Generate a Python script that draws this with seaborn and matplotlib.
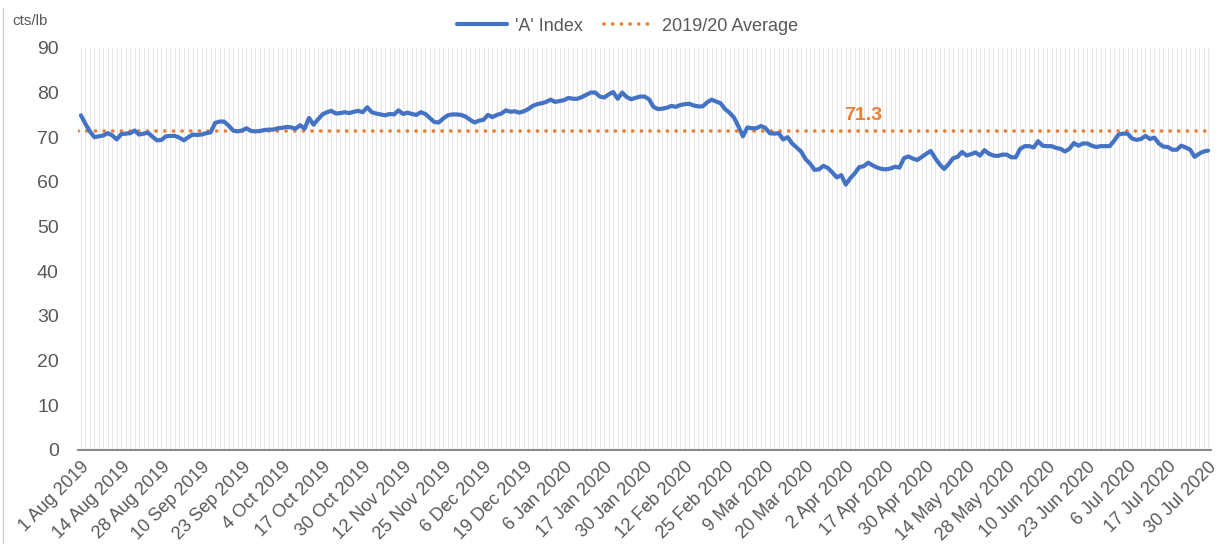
import numpy as np
import pandas as pd
import matplotlib
matplotlib.use("Agg")
import matplotlib.pyplot as plt
import seaborn as sns
from matplotlib.lines import Line2D

# ---- data ----
start_date = "2019-08-01"
end_date = "2020-07-30"
holidays = ["2019-08-26", "2019-12-25", "2019-12-26", "2020-01-01",
            "2020-04-10", "2020-04-13", "2020-05-08", "2020-05-25"]

a_index = [
    74.9, 73.0, 71.3, 70.0, 70.2, 70.4, 70.9, 70.4, 69.5, 70.7,
    70.8, 70.9, 71.5, 70.6, 70.8, 71.0, 70.1, 69.3, 69.4, 70.2,
    70.3, 70.3, 69.9, 69.3, 70.0, 70.6, 70.5, 70.6, 70.9, 71.1,
    73.2, 73.5, 73.5, 72.6, 71.5, 71.3, 71.5, 72.0, 71.4, 71.3,
    71.4, 71.6, 71.7, 71.7, 72.0, 72.1, 72.3, 72.2, 71.9, 72.7,
    71.9, 74.3, 72.8, 74.0, 75.1, 75.6, 75.9, 75.3, 75.4, 75.6,
    75.4, 75.7, 75.9, 75.6, 76.7, 75.6, 75.3, 75.1, 74.9, 75.2,
    75.1, 76.0, 75.2, 75.5, 75.2, 75.0, 75.6, 75.2, 74.3, 73.4,
    73.3, 74.2, 74.9, 75.1, 75.1, 75.0, 74.6, 73.9, 73.3, 73.7,
    73.9, 75.0, 74.5, 75.0, 75.3, 76.0, 75.7, 75.8, 75.5, 75.8,
    76.3, 77.0, 77.4, 77.6, 77.9, 78.4, 77.9, 78.1, 78.3, 78.8,
    78.6, 78.6, 79.0, 79.5, 80.0, 80.0, 79.1, 78.9, 79.6, 80.1,
    78.6, 80.0, 79.0, 78.5, 78.8, 79.1, 79.1, 78.5, 76.8, 76.3,
    76.4, 76.6, 77.0, 76.8, 77.2, 77.4, 77.5, 77.1, 76.9, 76.9,
    77.8, 78.4, 78.0, 77.6, 76.3, 75.5, 74.4, 72.4, 70.2, 72.2,
    72.0, 72.0, 72.5, 72.1, 70.9, 70.8, 70.9, 69.5, 70.0, 68.6,
    67.7, 66.8, 65.1, 64.1, 62.7, 62.8, 63.6, 63.1, 62.1, 61.0,
    61.5, 59.4, 60.8, 61.9, 63.3, 63.5, 64.3, 63.7, 63.2, 62.9,
    62.8, 63.0, 63.4, 63.2, 65.3, 65.7, 65.2, 64.9, 65.6, 66.3,
    66.9, 65.3, 63.9, 62.9, 64.0, 65.3, 65.6, 66.7, 65.9, 66.2,
    66.6, 65.9, 67.1, 66.3, 65.9, 65.8, 66.1, 66.1, 65.5, 65.5,
    67.4, 68.0, 68.0, 67.7, 69.1, 68.1, 68.0, 68.0, 67.6, 67.4,
    66.8, 67.4, 68.7, 68.1, 68.6, 68.6, 68.1, 67.8, 68.0, 68.0,
    68.0, 69.2, 70.6, 70.8, 70.8, 69.7, 69.4, 69.6, 70.3, 69.6,
    69.9, 68.6, 67.9, 67.8, 67.2, 67.2, 68.1, 67.7, 67.2, 65.6,
    66.3, 66.8, 67.0,
]
season_average = 71.3
y_ticks = [0, 10, 20, 30, 40, 50, 60, 70, 80, 90]
tick_every = 9

# ---- build frame ----
dates = pd.bdate_range(start_date, end_date)
dates = dates[~dates.isin(pd.to_datetime(holidays))]
dates = dates[:len(a_index)]
df = pd.DataFrame({"pos": np.arange(len(a_index)), "value": a_index, "date": dates})

# ---- plot ----
sns.set_theme(style="white")
plt.rcParams["font.family"] = ["Liberation Sans", "DejaVu Sans"]

fig = plt.figure(figsize=(12.23, 5.44), dpi=100)
ax = fig.add_axes([0.064, 0.173, 0.926, 0.739])

grey_txt = "#595959"
blue = "#4472C4"
orange = "#ED7D31"
dot_style = (0, (0.05, 2.35))

# vertical gridlines at every category
for p in df["pos"]:
    ax.axvline(p, color="#e6e6e6", lw=0.8, zorder=0)

sns.lineplot(data=df, x="pos", y="value", ax=ax, color=blue, lw=3.0,
             solid_capstyle="round", solid_joinstyle="round", zorder=3)
ax.axhline(season_average, color=orange, lw=2.6,
           linestyle=dot_style, dash_capstyle="round", zorder=2)

ax.text(df["pos"].iloc[175], season_average + 3.6, f"{season_average}",
        color=orange, fontsize=14, fontweight="bold", ha="center", va="center")

ax.set_xlim(-0.6, len(a_index) - 0.4)
ax.set_ylim(0, 90)
ax.set_yticks(y_ticks)
ax.set_yticklabels([str(t) for t in y_ticks], color=grey_txt, fontsize=14)

tick_pos = df["pos"].iloc[::tick_every].tolist()
tick_lab = [f"{d.day} {d.strftime('%b %Y')}" for d in df["date"].iloc[::tick_every]]
ax.set_xticks(tick_pos)
ax.set_xticklabels(tick_lab, rotation=45, ha="right", rotation_mode="anchor",
                   color=grey_txt, fontsize=13)
ax.tick_params(axis="both", length=0, pad=6)
ax.tick_params(axis="y", pad=14)
ax.set_xlabel("")
ax.set_ylabel("")

for s in ["top", "right", "left"]:
    ax.spines[s].set_visible(False)
ax.spines["bottom"].set_color("#8c8c8c")
ax.spines["bottom"].set_linewidth(1.5)

# legend
handles = [
    Line2D([0], [0], color=blue, lw=3.0),
    Line2D([0], [0], color=orange, lw=2.6, linestyle=dot_style,
           dash_capstyle="round"),
]
fig.legend(handles, ["'A' Index", "2019/20 Average"], loc="center",
           bbox_to_anchor=(0.513, 0.952), ncol=2, frameon=False,
           fontsize=13, handlelength=2.8, columnspacing=1.2, handletextpad=0.4,
           labelcolor=grey_txt)

fig.text(0.010, 0.962, "cts/lb", fontsize=11, color=grey_txt, ha="left", va="center")

fig.add_artist(Line2D([0.0025, 0.0025], [0.0, 0.985], transform=fig.transFigure,
                      color="#d0d0d0", lw=1))

fig.savefig("out.png", dpi=100)
